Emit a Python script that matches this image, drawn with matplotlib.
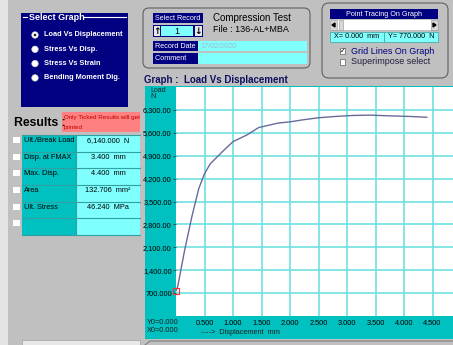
import numpy as np
import matplotlib
matplotlib.use("Agg")
import matplotlib.pyplot as plt
from matplotlib.patches import Rectangle, Circle, FancyBboxPatch, Polygon

plt.rcParams['font.family'] = ['Liberation Sans Narrow', 'Liberation Sans', 'DejaVu Sans']

# curve
disp = [0.0, 0.03, 0.15, 0.28, 0.40, 0.50, 0.60, 0.80, 1.00, 1.25, 1.45, 1.55,
        1.80, 2.00, 2.20, 2.50, 2.80, 3.10, 3.40, 3.80, 4.10, 4.40]
load = [770, 900, 2000, 3050, 3900, 4350, 4650, 5000, 5330, 5540, 5760, 5800,
        5900, 5935, 5990, 6060, 6100, 6130, 6140, 6115, 6100, 6075]

yticks = [700, 1400, 2100, 2800, 3500, 4200, 4900, 5600, 6300]
ytick_labels = ["700.000", "1,400.00", "2,100.00", "2,800.00", "3,500.00",
                "4,200.00", "4,900.00", "5,600.00", "6,300.00"]
xticks = [0.5, 1.0, 1.5, 2.0, 2.5, 3.0, 3.5, 4.0, 4.5]
xtick_labels = ["0.500", "1.000", "1.500", "2.000", "2.500", "3.000", "3.500", "4.000", "4.500"]

graph_options = ["Load Vs Displacement", "Stress Vs Disp.", "Stress Vs Strain", "Bending Moment Dig."]
result_names = ["Ult./Break Load", "Disp. at FMAX", "Max. Disp.", "Area", "Ult. Stress", ""]
result_values = ["6,140.000  N", "3.400  mm", "4.400  mm", "132.706  mm\u00b2", "46.240  MPa", ""]

GREY = "#c0c0c0"
NAVY = "#000080"
TEAL = "#00c0c0"
CYAN = "#80ffff"

W, H = 453, 345
fig = plt.figure(figsize=(W / 100, H / 100), dpi=100, facecolor=GREY)
bg = fig.add_axes([0, 0, 1, 1], zorder=0)
bg.set_xlim(0, W)
bg.set_ylim(H, 0)
bg.axis("off")


def rect(x0, y0, x1, y1, fc, ec="none", lw=0.8, z=1):
    bg.add_patch(Rectangle((x0, y0), x1 - x0, y1 - y0, facecolor=fc, edgecolor=ec, lw=lw, zorder=z))


def txt(x, y, s, size=6, color="black", ha="left", weight="normal", **kw):
    bg.text(x, y, s, fontsize=size, color=color, ha=ha, va="center", weight=weight, **kw)


# light border on the left edge
rect(0, 0, 8, H, "#e4e4e4")

# --- Select Graph group ---
rect(21, 13, 128, 107, NAVY)
bg.plot([23, 27], [17, 17], color="white", lw=0.8, zorder=2)
bg.plot([84, 126], [17, 17], color="white", lw=0.8, zorder=2)
txt(29, 17, "Select Graph", size=6.5, color="white", weight="bold")
for i, name in enumerate(graph_options):
    yy = 35 + i * 14.3
    bg.add_patch(Circle((35, yy), 3.2, facecolor="white", edgecolor="#e0e0e0", lw=0.5, zorder=2))
    if i == 0:
        bg.add_patch(Circle((35, yy), 1.3, facecolor="#202020", zorder=3))
    txt(44, yy, name, size=5.3, color="white", weight="bold")

# --- record box ---
bg.add_patch(FancyBboxPatch((143, 8), 167, 60, boxstyle="round,pad=0,rounding_size=6",
                            facecolor="none", edgecolor="#606060", lw=0.8, zorder=1))
rect(153, 13, 203, 23, NAVY)
txt(178, 18, "Select Record", size=5.2, color="white", ha="center")
rect(153, 25, 203, 37, NAVY)
rect(154, 26, 160, 36, "#e8e8e8")
rect(195, 26, 202, 36, "#e8e8e8")
rect(161, 26, 193, 36, CYAN)
txt(157, 31, "\u2191", size=6.5, ha="center", weight="bold", family="DejaVu Sans")
txt(198.5, 31, "\u2193", size=6.5, ha="center", weight="bold", family="DejaVu Sans")
txt(177, 31, "1", size=6.5, ha="center")
txt(213, 18, "Compression Test", size=7)
txt(213, 29, "File : 136-AL+MBA", size=6.5)
rect(153, 41, 198, 51, NAVY)
rect(198, 41, 307, 51, CYAN)
txt(155, 46, "Record Date :", size=5.2, color="white")
txt(200, 46, "17/02/2020", size=5.2, color="#a0b8c8")
rect(153, 53, 198, 64, NAVY)
rect(198, 53, 307, 64, CYAN)
txt(155, 58.5, "Comment      :", size=5.2, color="white")

# --- point tracing box ---
bg.add_patch(FancyBboxPatch((322, 3), 126, 75, boxstyle="round,pad=0,rounding_size=7",
                            facecolor="none", edgecolor="#606060", lw=0.8, zorder=1))
rect(330, 9, 438, 19, NAVY)
txt(384, 14, "Point Tracing On Graph", size=5.2, color="white", ha="center")
rect(330, 20, 438, 30, "white")
rect(330, 20, 337, 30, "#d8d8d8", ec="#909090", lw=0.4, z=2)
rect(431, 20, 438, 30, "#d8d8d8", ec="#909090", lw=0.4, z=2)
rect(339, 20, 343, 30, "#d8d8d8", ec="#909090", lw=0.4, z=2)
bg.add_patch(Polygon([[332, 25], [335, 23], [335, 27]], color="black", zorder=3))
bg.add_patch(Polygon([[436, 25], [433, 23], [433, 27]], color="black", zorder=3))
rect(330, 32, 384, 42, CYAN, ec="#40a0a0", lw=0.5)
rect(384, 32, 438, 42, CYAN, ec="#40a0a0", lw=0.5)
txt(357, 37, "X= 0.000  mm", size=5.2, ha="center")
txt(411, 37, "Y= 770.000  N", size=5.2, ha="center")
rect(340, 48, 345, 54, "white", ec="#606060", lw=0.5, z=2)
txt(342.5, 51, "\u2713", size=5, ha="center", family="DejaVu Sans")
txt(351, 51, "Grid Lines On Graph", size=6.5, color=NAVY)
rect(340, 59, 345, 65, "white", ec="#606060", lw=0.5, z=2)
txt(351, 62, "Superimpose select", size=6.5, color="#202040")

# --- results ---
txt(14, 123, "Results :", size=8.8, weight="bold")
rect(62, 112, 140, 132, "#ff8080")
txt(64, 117, "Only Ticked Results will get", size=4.5, color="#c00000")
txt(64, 127, "printed", size=4.5, color="#c00000")
row_edges = [135, 152, 168, 185, 202, 218, 235]
rect(22, 135, 76, 235, TEAL)
rect(76, 135, 140, 235, CYAN)
for yy in row_edges:
    bg.plot([22, 140], [yy, yy], color="#30a0a0", lw=0.8, zorder=2)
bg.plot([76, 76], [135, 235], color="#30a0a0", lw=0.8, zorder=2)
for i in range(len(result_names)):
    y0 = row_edges[i]
    rect(13, y0 + 2, 20, y0 + 8, "white", z=2)
    txt(24, y0 + 5.5, result_names[i], size=5.3)
    txt(108, y0 + 5.5, result_values[i], size=5.3, ha="center")
rect(22, 340, 140, H + 2, "#e8e8e8", ec="#a0a0a0", lw=0.5)

# --- graph panel ---
txt(144, 80, "Graph :  Load Vs Displacement", size=7, color="#101060", weight="bold")
rect(145, 86, W + 1, 339, TEAL)
bg.plot([145, 150, W], [H, 341, 341], color="#808080", lw=0.8, zorder=2)
txt(150, 90, "Load", size=5, color="#202020")
txt(150, 97, "N", size=5, color="#202020")
txt(147, 322, "Y0=0.000", size=5.3, color="#202020")
txt(147, 331, "X0=0.000", size=5.3, color="#202020")
txt(240, 333, "---->  Displacement  mm", size=5.3, color="#202020", ha="center")

left, right, top, bottom = 176, W, 87, 316
ax = fig.add_axes([left / W, 1 - bottom / H, (right - left) / W, (bottom - top) / H], zorder=2)
ax.set_facecolor("white")
ax.set_xlim(0, (right - left) / 57.0)
ax.set_ylim(0, 7000)
ax.set_xticks(xticks)
ax.set_xticklabels(xtick_labels)
ax.set_yticks(yticks)
ax.set_yticklabels(ytick_labels)
ax.tick_params(axis="both", labelsize=5.3, color="#404040", labelcolor="black",
               length=2, width=0.6, pad=1)
ax.tick_params(axis="x", length=0, pad=3)
ax.grid(True, color="#70e0e0", lw=1.2)
ax.set_axisbelow(True)
for sp in ax.spines.values():
    sp.set_visible(False)
ax.plot(disp, load, color="#6a6a9a", lw=1.0, zorder=3)
ax.plot([disp[0]], [load[0]], marker="s", ms=4, mfc="none", mec="#ff3030", mew=0.8, zorder=4, clip_on=False)

fig.savefig("out.png", dpi=100, facecolor=GREY)
